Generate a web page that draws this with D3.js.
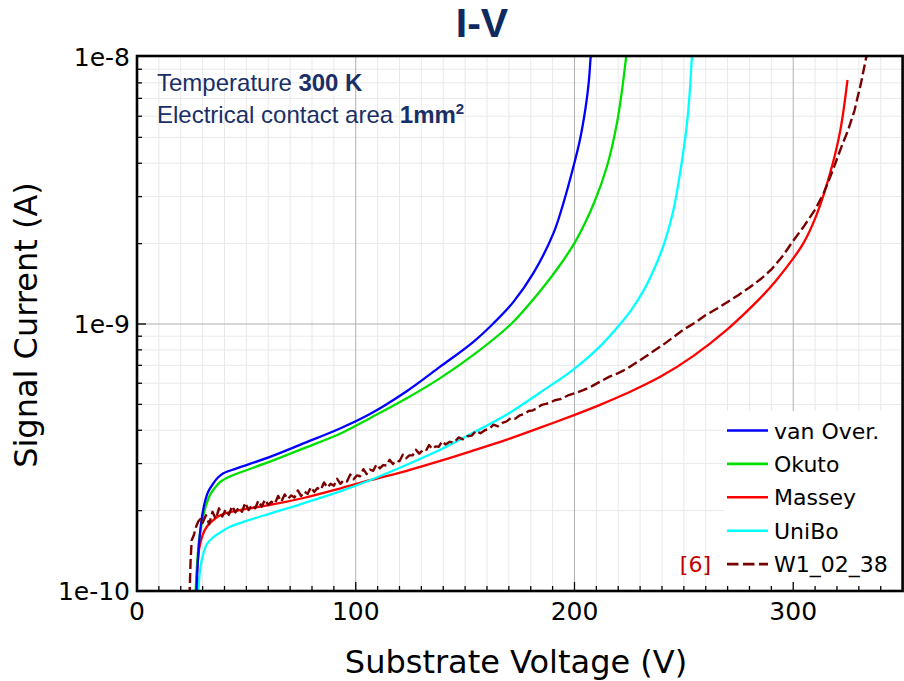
<!DOCTYPE html>
<html>
<head>
<meta charset="utf-8">
<script src="https://cdn.jsdelivr.net/npm/d3@7"></script>
<style>
  html, body { margin: 0; padding: 0; background: #fff; }
  svg { display: block; }
</style>
</head>
<body>
<svg id="chart" width="904" height="681"></svg>
<script>
// ---------------- DATA ----------------
const title = "I-V";
const xLabel = "Substrate Voltage (V)";
const yLabel = "Signal Current (A)";
const xTicks = [0, 100, 200, 300];
const yTicks = [1e-10, 1e-9, 1e-8];
const yTickLabels = ["1e-10", "1e-9", "1e-8"];
const seriesNames = ["van Over.", "Okuto", "Massey", "UniBo", "W1_02_38"];
const seriesColors = ["#0000ff", "#00e000", "#ff0000", "#00ffff", "#7a0000"];

// [voltage V, current A]
const vanOver = [
  [27.0, 0.9e-10], [27.6, 1.2e-10], [28.5, 1.55e-10], [29.7, 1.89e-10], [31.0, 2.15e-10],
  [32.5, 2.35e-10], [34.9, 2.53e-10], [37.0, 2.66e-10], [39.5, 2.76e-10], [45.6, 2.88e-10],
  [60.8, 3.18e-10], [76.1, 3.57e-10], [92.8, 4.06e-10], [106.5, 4.6e-10], [123.3, 5.6e-10],
  [138.6, 6.92e-10], [153.8, 8.58e-10], [163.0, 1.007e-9], [172.1, 1.21e-9], [181.2, 1.55e-9],
  [190.4, 2.19e-9], [195.0, 2.85e-9], [199.5, 3.88e-9], [202.5, 4.9e-9], [205.0, 6.4e-9],
  [206.5, 8.0e-9], [207.4, 1.0e-8], [207.9, 1.1e-8]
];
const okuto = [
  [26.6, 0.9e-10], [27.3, 1.2e-10], [28.4, 1.55e-10], [29.9, 1.85e-10], [31.6, 2.1e-10],
  [33.5, 2.3e-10], [35.7, 2.44e-10], [38.0, 2.56e-10], [41.0, 2.65e-10], [45.6, 2.75e-10],
  [60.8, 3.05e-10], [76.1, 3.42e-10], [92.8, 3.88e-10], [106.5, 4.44e-10], [123.3, 5.27e-10],
  [138.6, 6.27e-10], [153.8, 7.66e-10], [171.0, 1.0e-9], [185.9, 1.38e-9], [194.2, 1.7e-9],
  [200.9, 2.07e-9], [209.0, 2.85e-9], [214.8, 3.88e-9], [219.4, 5.65e-9], [222.0, 7.8e-9],
  [223.6, 1.0e-8], [224.2, 1.1e-8]
];
const massey = [
  [26.8, 0.9e-10], [27.5, 1.2e-10], [28.5, 1.45e-10], [30.0, 1.62e-10], [31.9, 1.74e-10],
  [34.5, 1.83e-10], [37.0, 1.9e-10], [40.0, 1.95e-10], [50.0, 2.03e-10], [60.8, 2.1e-10],
  [76.1, 2.23e-10], [92.8, 2.42e-10], [106.5, 2.6e-10], [123.3, 2.82e-10], [138.6, 3.07e-10],
  [153.8, 3.36e-10], [169.1, 3.69e-10], [184.3, 4.09e-10], [199.5, 4.55e-10], [211.7, 4.98e-10],
  [223.9, 5.5e-10], [239.2, 6.34e-10], [254.4, 7.6e-10], [269.6, 9.51e-10], [284.9, 1.25e-9],
  [292.0, 1.45e-9], [300.0, 1.76e-9], [305.0, 2.03e-9], [310.8, 2.58e-9], [316.9, 3.68e-9],
  [321.5, 5.3e-9], [324.8, 8.2e-9]
];
const uniBo = [
  [27.8, 0.9e-10], [28.6, 1.15e-10], [30.0, 1.35e-10], [32.0, 1.5e-10], [34.5, 1.58e-10],
  [37.2, 1.64e-10], [42.5, 1.74e-10], [50.0, 1.83e-10], [60.8, 1.95e-10], [76.1, 2.13e-10],
  [92.8, 2.36e-10], [106.5, 2.6e-10], [123.3, 2.97e-10], [138.6, 3.38e-10], [153.8, 3.92e-10],
  [169.1, 4.58e-10], [184.3, 5.54e-10], [199.5, 6.75e-10], [211.7, 8.25e-10], [220.9, 1.0e-9],
  [226.0, 1.13e-9], [231.5, 1.33e-9], [236.0, 1.58e-9], [241.0, 2.0e-9], [245.0, 2.62e-9],
  [248.1, 3.6e-9], [251.4, 5.6e-9], [252.7, 7.4e-9], [253.7, 1.0e-8], [254.2, 1.1e-8]
];
const w1_02_38 = [
  [24.0, 0.95e-10], [24.5, 1.3e-10], [25.0, 1.55e-10], [26.0, 1.62e-10], [27.0, 1.74e-10],
  [28.0, 1.82e-10], [29.0, 1.86e-10], [30.0, 1.80e-10], [31.5, 1.92e-10], [33.0, 1.78e-10],
  [34.5, 1.98e-10], [36.0, 1.86e-10], [37.5, 2.04e-10], [39.0, 1.90e-10], [40.5, 2.02e-10],
  [42.0, 1.93e-10], [43.5, 2.08e-10], [45.0, 1.97e-10], [46.5, 2.05e-10], [48.0, 1.98e-10],
  [49.5, 2.14e-10], [51.0, 2.01e-10], [52.5, 2.10e-10], [54.0, 2.04e-10], [55.5, 2.18e-10],
  [57.0, 2.07e-10], [58.5, 2.20e-10], [60.0, 2.10e-10], [61.5, 2.16e-10], [63.0, 2.12e-10],
  [64.5, 2.27e-10], [66.0, 2.16e-10], [67.5, 2.30e-10], [69.0, 2.21e-10], [70.5, 2.28e-10],
  [72.0, 2.24e-10], [73.5, 2.38e-10], [75.0, 2.27e-10], [76.5, 2.36e-10], [78.0, 2.31e-10],
  [79.5, 2.45e-10], [81.0, 2.35e-10], [82.5, 2.43e-10], [84.0, 2.39e-10], [85.5, 2.55e-10],
  [87.0, 2.44e-10], [88.5, 2.52e-10], [90.0, 2.48e-10], [91.5, 2.63e-10], [93.0, 2.52e-10],
  [94.5, 2.60e-10], [96.0, 2.57e-10], [97.5, 2.73e-10], [99.0, 2.62e-10], [100.5, 2.71e-10],
  [102.0, 2.69e-10], [103.5, 2.86e-10], [105.0, 2.74e-10], [106.5, 2.85e-10], [108.0, 2.82e-10],
  [109.5, 2.98e-10], [111.0, 2.88e-10], [112.5, 2.96e-10], [114.0, 2.95e-10], [115.5, 3.10e-10],
  [117.0, 2.99e-10], [118.5, 3.08e-10], [120.0, 3.06e-10], [121.5, 3.24e-10], [123.0, 3.14e-10],
  [124.5, 3.22e-10], [126.0, 3.22e-10], [127.5, 3.38e-10], [129.0, 3.27e-10], [130.5, 3.36e-10],
  [132.0, 3.34e-10], [133.5, 3.52e-10], [135.0, 3.40e-10], [136.5, 3.48e-10], [138.0, 3.47e-10],
  [139.5, 3.64e-10], [141.0, 3.54e-10], [143.0, 3.62e-10], [145.0, 3.60e-10], [147.0, 3.76e-10],
  [149.0, 3.70e-10], [151.0, 3.80e-10], [153.0, 3.82e-10], [155.0, 3.98e-10], [157.0, 3.90e-10],
  [159.0, 4.00e-10], [161.0, 4.05e-10], [163.0, 4.20e-10], [165.0, 4.14e-10], [167.0, 4.26e-10],
  [169.0, 4.32e-10], [171.0, 4.45e-10], [173.0, 4.42e-10], [175.0, 4.55e-10], [177.0, 4.60e-10],
  [179.0, 4.72e-10], [181.0, 4.75e-10], [183.0, 4.85e-10], [185.0, 4.98e-10], [187.0, 5.02e-10],
  [189.0, 5.08e-10], [191.0, 5.18e-10], [194.0, 5.24e-10], [197.0, 5.40e-10], [200.0, 5.50e-10],
  [204.0, 5.65e-10], [208.0, 5.85e-10], [212.0, 6.1e-10], [216.0, 6.35e-10], [220.0, 6.55e-10],
  [224.0, 6.8e-10], [228.0, 7.15e-10], [232.0, 7.5e-10], [236.0, 7.9e-10], [240.0, 8.3e-10],
  [245.0, 8.9e-10], [250.0, 9.55e-10], [255.0, 1.01e-9], [260.0, 1.08e-9], [265.0, 1.14e-9],
  [270.0, 1.21e-9], [275.0, 1.285e-9], [280.0, 1.37e-9], [285.0, 1.47e-9], [290.0, 1.6e-9],
  [295.0, 1.79e-9], [300.0, 2.05e-9], [305.0, 2.33e-9], [310.0, 2.68e-9], [314.0, 3.1e-9],
  [318.0, 3.75e-9], [322.0, 4.6e-9], [325.0, 5.3e-9], [328.0, 6.3e-9], [331.0, 8.0e-9],
  [333.4, 1.0e-8], [334.0, 1.1e-8]
];
const seriesData = [vanOver, okuto, massey, uniBo, w1_02_38];

// ---------------- LAYOUT ----------------
const svg = d3.select("#chart");
const L = 137, R = 902.6, T = 57, B = 591;
const x = d3.scaleLinear().domain([0, 350]).range([L, R]);
const y = d3.scaleLog().domain([1e-10, 1e-8]).range([B, T]);

svg.append("rect").attr("width", 904).attr("height", 681).attr("fill", "#fff");

svg.append("defs").append("clipPath").attr("id", "plotclip")
  .append("rect").attr("x", L).attr("y", T).attr("width", R - L).attr("height", B - T);

// grid
const grid = svg.append("g");
const minorX = d3.range(10, 350, 10).filter(v => v % 100 !== 0);
const majorX = [100, 200, 300];
const minorY = [];
[1e-10, 1e-9].forEach(d => { for (let k = 2; k <= 9; k++) minorY.push(d * k); });
const majorY = [1e-9];

grid.selectAll(".mx").data(minorX).join("line")
  .attr("x1", d => x(d)).attr("x2", d => x(d)).attr("y1", T).attr("y2", B)
  .attr("stroke", "#e9e9e9").attr("stroke-width", 1);
grid.selectAll(".my").data(minorY).join("line")
  .attr("x1", L).attr("x2", R).attr("y1", d => y(d)).attr("y2", d => y(d))
  .attr("stroke", "#e9e9e9").attr("stroke-width", 1);
grid.selectAll(".Mx").data(majorX).join("line")
  .attr("x1", d => x(d)).attr("x2", d => x(d)).attr("y1", T).attr("y2", B)
  .attr("stroke", "#b0b0b0").attr("stroke-width", 1);
grid.selectAll(".My").data(majorY).join("line")
  .attr("x1", L).attr("x2", R).attr("y1", d => y(d)).attr("y2", d => y(d))
  .attr("stroke", "#b0b0b0").attr("stroke-width", 1);

// legend background box
svg.append("rect").attr("x", 724).attr("y", 411).attr("width", R - 724).attr("height", B - 411)
  .attr("fill", "#fff");

// curves
const line = d3.line().x(d => x(d[0])).y(d => y(d[1])).curve(d3.curveCatmullRom.alpha(0.5));
const rough = d3.line().x(d => x(d[0])).y(d => y(d[1])).curve(d3.curveLinear);
const curves = svg.append("g").attr("clip-path", "url(#plotclip)");
[2, 3, 1, 0].forEach(i => {
  curves.append("path").datum(seriesData[i])
    .attr("d", line).attr("fill", "none")
    .attr("stroke", seriesColors[i]).attr("stroke-width", 2.3)
    .attr("stroke-linejoin", "round");
});
curves.append("path").datum(seriesData[4])
  .attr("d", rough).attr("fill", "none")
  .attr("stroke", seriesColors[4]).attr("stroke-width", 2.4)
  .attr("stroke-dasharray", "10,4").attr("stroke-linejoin", "round");

// ticks
const ticks = svg.append("g").attr("stroke", "#000").attr("stroke-width", 1.3);
ticks.selectAll(".tx").data(minorX).join("line")
  .attr("x1", d => x(d)).attr("x2", d => x(d)).attr("y1", B).attr("y2", B - 5);
ticks.selectAll(".tX").data(majorX).join("line")
  .attr("x1", d => x(d)).attr("x2", d => x(d)).attr("y1", B).attr("y2", B - 9);
ticks.selectAll(".ty").data(minorY).join("line")
  .attr("x1", L).attr("x2", L + 5).attr("y1", d => y(d)).attr("y2", d => y(d));
ticks.selectAll(".tY").data(majorY).join("line")
  .attr("x1", L).attr("x2", L + 9).attr("y1", d => y(d)).attr("y2", d => y(d));

// frame
svg.append("rect").attr("x", L).attr("y", T - 1).attr("width", R - L).attr("height", B - T + 1)
  .attr("fill", "none").attr("stroke", "#000").attr("stroke-width", 2.6);

// tick labels
const tickFont = "'DejaVu Sans', sans-serif";
svg.append("g").selectAll("text").data(xTicks).join("text")
  .attr("x", d => x(d)).attr("y", 620).attr("text-anchor", "middle")
  .attr("font-family", tickFont).attr("font-size", 25).attr("fill", "#000")
  .text(d => d);
svg.append("g").selectAll("text").data(yTicks).join("text")
  .attr("x", 130).attr("y", d => y(d) + 9).attr("text-anchor", "end")
  .attr("font-family", tickFont).attr("font-size", 25).attr("fill", "#000")
  .text((d, i) => yTickLabels[i]);

// axis titles
svg.append("text").attr("x", 516).attr("y", 673).attr("text-anchor", "middle")
  .attr("font-family", tickFont).attr("font-size", 32).attr("fill", "#000").text(xLabel);
svg.append("text").attr("transform", "translate(37,325) rotate(-90)").attr("text-anchor", "middle")
  .attr("font-family", tickFont).attr("font-size", 32).attr("fill", "#000").text(yLabel);

// title
svg.append("text").attr("x", 482).attr("y", 37).attr("text-anchor", "middle")
  .attr("font-family", "'Liberation Sans', Arial, sans-serif").attr("font-weight", "bold")
  .attr("font-size", 41).attr("fill", "#0e2a5e").text(title);

// annotation
const ann = svg.append("g").attr("font-family", "'Liberation Sans', Arial, sans-serif")
  .attr("font-size", 24).attr("fill", "#1a2f66");
const a1 = ann.append("text").attr("x", 157).attr("y", 91);
a1.append("tspan").text("Temperature ");
a1.append("tspan").attr("font-weight", "bold").text("300 K");
const a2 = ann.append("text").attr("x", 157).attr("y", 123);
a2.append("tspan").text("Electrical contact area ");
a2.append("tspan").attr("font-weight", "bold").text("1mm");
a2.append("tspan").attr("font-weight", "bold").attr("font-size", 15).attr("dy", -9).text("2");

// legend
const leg = svg.append("g");
seriesNames.forEach((name, i) => {
  const yy = 430.5 + i * 33.4;
  leg.append("line").attr("x1", 727).attr("x2", 768).attr("y1", yy).attr("y2", yy)
    .attr("stroke", seriesColors[i]).attr("stroke-width", 2.6)
    .attr("stroke-dasharray", i === 4 ? "11.5,4.5" : null);
  leg.append("text").attr("x", 774).attr("y", yy + 8)
    .attr("font-family", tickFont).attr("font-size", 22).attr("fill", "#000").text(name);
});
leg.append("text").attr("x", 711).attr("y", 430.5 + 4 * 33.4 + 8).attr("text-anchor", "end")
  .attr("font-family", tickFont).attr("font-size", 22).attr("fill", "#c00000").text("[6]");
</script>
</body>
</html>
